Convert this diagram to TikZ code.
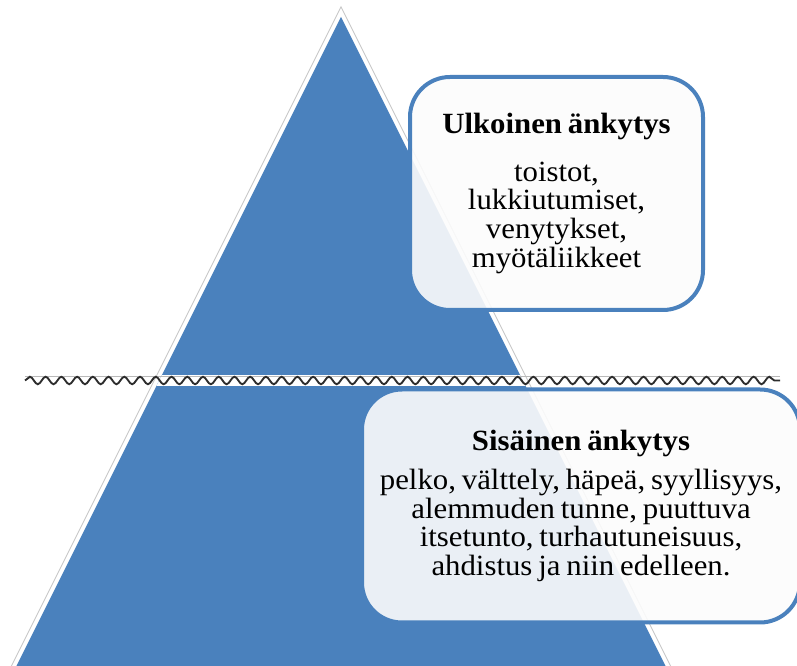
\documentclass[tikz,border=0pt]{standalone}
\usepackage{fontspec}
\setmainfont{Liberation Serif}[FakeStretch=1.05]
\usepackage{tikz}
\usetikzlibrary{decorations.pathmorphing}
\definecolor{pyramidblue}{RGB}{74,129,189}
\definecolor{wavegray}{RGB}{45,45,45}
\newcommand{\levelfont}{\fontsize{22}{21.5}\selectfont\spaceskip=0.2em\relax}
\tikzstyle{pyramid} = [draw=gray!45, line width=0.75pt, double=white, double distance=6pt, postaction={fill=pyramidblue}]
\tikzstyle{level} = [rectangle, rounded corners=30pt, minimum height=174.75pt, align=center, draw=pyramidblue, line width=3pt, fill=white!98!gray, fill opacity=0.9, text opacity=1, font=\levelfont]
\tikzstyle{wave} = [draw=wavegray, line width=1.4pt, decorate, decoration={snake, amplitude=2.8pt, segment length=11.8pt}]

\begin{document}
\begin{tikzpicture}[x=0.75pt, y=-0.75pt]

	\clip (0,0) rectangle (797,666);

	% pyramid
	\coordinate (apex) at (341,17);
	\coordinate (baseleft) at (9.5,680);
	\coordinate (baseright) at (672.5,680);
	\path [pyramid] (apex) -- (baseleft) -- (baseright) -- cycle;
	\begin{scope}
		\clip (apex) -- (baseleft) -- (baseright) -- cycle;
		\fill [white] (0,375) rectangle (797,386);
	\end{scope}

	% border between the levels
	\coordinate (linestart) at (25,376.5);
	\coordinate (lineend) at (780,376.5);
	\coordinate (wavestart) at (25,380.5);
	\coordinate (waveend) at (780,380.5);
	\draw [gray!55, line width=0.5pt] (linestart) -- (lineend);
	\draw [wave] (wavestart) -- (waveend);

	\node (outer) [level, minimum width=219.75pt] at (556.5,193.5) {\textbf{Ulkoinen änkytys}\\[14pt]toistot,\\lukkiutumiset,\\venytykset,\\myötäliikkeet};
	\node (inner) [level, minimum width=328.5pt] at (581,506) {\textbf{Sisäinen änkytys}\\[7.5pt]pelko, välttely, häpeä, syyllisyys,\\alemmuden tunne, puuttuva\\itsetunto, turhautuneisuus,\\ahdistus ja niin edelleen.};

\end{tikzpicture}
\end{document}
